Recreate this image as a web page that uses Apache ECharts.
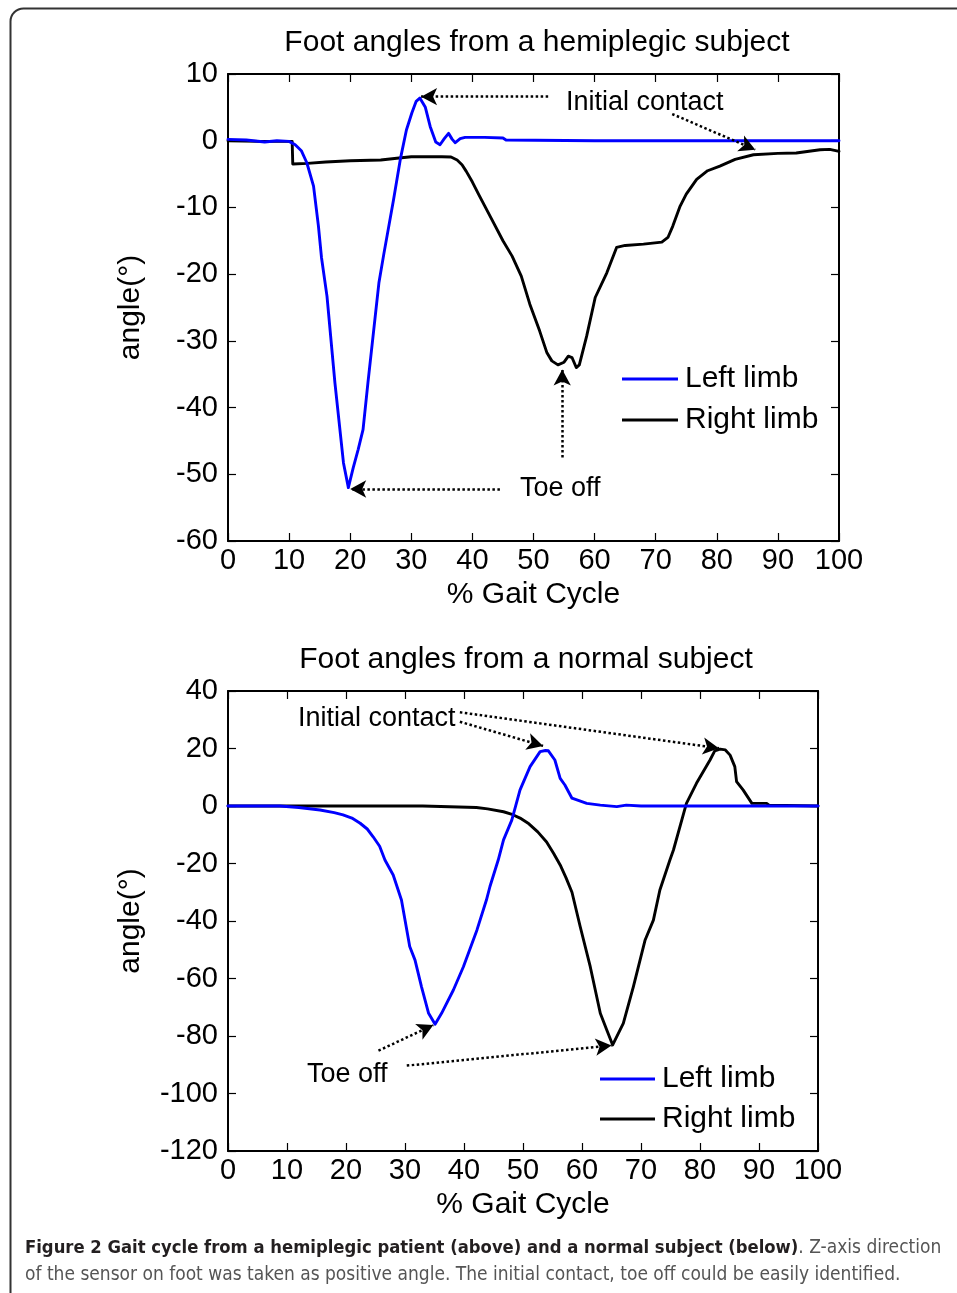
<!DOCTYPE html>
<html>
<head>
<meta charset="utf-8">
<script src="https://cdn.jsdelivr.net/npm/echarts@6/dist/echarts.min.js"></script>
<style>
html,body{margin:0;padding:0;background:#fff;}
#c{width:957px;height:1293px;}
</style>
</head>
<body>
<div id="c"></div>
<script>
// ---- Data ----
var xTicks = [0,10,20,30,40,50,60,70,80,90,100];

// Hemiplegic subject - left limb (blue)
var hemiLeftPct = [0,3,6,8,10,11,12,12.9,14,14.8,15.3,16.2,17.5,18.9,19.7,20.5,21.3,22.1,22.9,24.1,24.7,25.5,27.1,28.2,29.2,30.1,30.8,31.4,32.3,33.1,34,34.7,35.4,36.1,36.7,37.2,38,38.8,42,45,45.5,60,80,100];
var hemiLeftAng = [0.2,0.1,-0.2,0,-0.1,-0.6,-1.5,-3.3,-6.8,-12.8,-17.5,-23.3,-36.3,-48.3,-52,-49,-46.3,-43.3,-36.3,-26.3,-21.3,-17,-8.8,-2.8,1.6,4.2,5.9,6.4,5.0,2.1,-0.2,-0.6,0.3,1.1,0.2,-0.3,0.3,0.5,0.5,0.4,0.1,0,0,0];

// Hemiplegic subject - right limb (black)
var hemiRightPct = [0,5,10.5,10.6,13,16,20,25,28,30,35,36.5,37.5,38.3,39,40,41,43,45,46.5,48,49.4,51,52.2,53,54,55,55.7,56.3,57,57.5,58.7,60.1,62,63.6,65,68,71,72,72.8,74,75,76.7,78.5,80.5,83,86,90,93,96.9,98.5,100];
var hemiRightAng = [0,-0.1,-0.1,-3.5,-3.4,-3.2,-3.0,-2.9,-2.6,-2.4,-2.4,-2.45,-2.9,-3.6,-4.6,-6.2,-8,-11.5,-15,-17.3,-20.3,-24.5,-28.5,-31.8,-33,-33.6,-33.2,-32.3,-32.5,-34,-33.6,-29.3,-23.5,-19.8,-16,-15.7,-15.5,-15.2,-14.5,-12.8,-9.8,-8,-5.8,-4.5,-3.8,-2.8,-2.1,-1.9,-1.85,-1.35,-1.3,-1.6];

// Normal subject - left limb (blue)
var normLeftPct = [0,5,8.8,12,15.6,18,19.5,21,22.4,23.6,24.6,25.7,26.6,28,29.4,30.8,31.7,32.8,34,35.1,36.2,38.2,39.9,42.2,43.8,44.4,45.8,46.7,48.1,49.5,51.2,52.9,53.8,54.3,55.4,56.3,57.1,58.3,60.8,63.1,65.9,67.5,70,100];
var normLeftAng = [0,0,0,-0.5,-1.4,-2.3,-3.1,-4.2,-6,-8,-10.7,-14,-18.8,-24,-32.7,-48.9,-53.6,-62.9,-72.1,-75.9,-72.1,-64,-55.9,-43.1,-32.7,-28,-18.8,-11.8,-4.9,5.6,13.7,18.9,19.3,19.2,16,9.6,7.3,2.7,0.9,0.3,-0.2,0.3,0,0];

// Normal subject - right limb (black)
var normRightPct = [0,20,33,33.2,42.1,44,46.7,48,49.5,51,52.5,54,55.2,56.3,57.3,58.3,59.7,61.4,63.1,64.2,65.2,67,68.7,70.7,72.1,73.2,74.9,75.5,77.7,79.4,81.7,82.5,83.4,84.3,85.1,85.9,86.2,87.3,88.8,91.3,91.7,100];
var normRightAng = [0,0,0,-0.4,-0.5,-1,-2,-2.8,-4.2,-6.2,-9,-12.5,-16.5,-20.5,-25,-30,-42,-55.9,-72.1,-77.9,-83.1,-75.6,-62.9,-46.6,-39.7,-29.2,-18.8,-15.3,0.9,7.9,16,19.2,19.8,19.5,17.7,13.7,8.5,5.6,0.9,0.9,0.3,0];

// Annotation arrows [fromPct, fromAng, toPct, toAng]
var hemiArrows = [[52.4,6.6,31.6,6.6],[72.7,4.0,86.3,-1.35],[44.5,-52.2,20.0,-52.2],[54.7,-47.5,54.7,-34.3]];
var normArrows = [[39.3,32.6,83.2,20.1],[39.3,29.3,53.4,20.9],[25.5,-85.1,34.8,-76.2],[30.3,-90.3,65.0,-83.3]];

function zip(a,b){ return a.map(function(v,i){ return [v,b[i]]; }); }
function arrowData(arr){
  return arr.map(function(a){
    return [{coord:[a[0],a[1]], symbol:'none'},{coord:[a[2],a[3]], symbol:'arrow'}];
  });
}

var FONT = 'Liberation Sans, Arial, Helvetica, sans-serif';
var CAPFONT = 'DejaVu Sans Condensed, Open Sans, sans-serif';
var tickLbl = {color:'#000', fontSize:29, fontFamily:FONT};

function xAxes(grid, main){
  return {
    type:'value', gridIndex:grid, min:0, max:100, interval:10,
    position: main ? 'bottom' : 'top',
    name: main ? '% Gait Cycle' : '', nameLocation:'middle', nameGap:39,
    nameTextStyle:{color:'#000', fontSize:30, fontFamily:FONT},
    axisLine:{show:true, onZero:false, lineStyle:{color:'#000', width:2}},
    axisTick:{show:true, inside:true, length:8, lineStyle:{color:'#000', width:1.2}},
    axisLabel:{show:main, margin:5, ...tickLbl},
    splitLine:{show:false}
  };
}
function yAxes(grid, main, min, max, interval){
  return {
    type:'value', gridIndex:grid, min:min, max:max, interval:interval,
    position: main ? 'left' : 'right',
    name: main ? 'angle(°)' : '', nameLocation:'middle', nameGap:82, nameRotate:90,
    nameTextStyle:{color:'#000', fontSize:30, fontFamily:FONT},
    axisLine:{show:true, onZero:false, lineStyle:{color:'#000', width:2}},
    axisTick:{show:true, inside:true, length:8, lineStyle:{color:'#000', width:1.2}},
    axisLabel:{show:main, margin:10, ...tickLbl},
    splitLine:{show:false}
  };
}

var markLineBase = {
  silent:true, animation:false, symbol:['none','arrow'], symbolSize:[13,16],
  label:{show:false},
  lineStyle:{color:'#000', type:'dotted', width:2.5},
  emphasis:{disabled:true}
};

function lineSeries(name, color, xi, yi, data, arrows){
  var s = {
    name:name, type:'line', xAxisIndex:xi, yAxisIndex:yi, data:data,
    symbol:'none', smooth:false,
    lineStyle:{color:color, width:2.9, join:'round', cap:'round'}, itemStyle:{color:color},
    animation:false, z:3
  };
  if (arrows) { s.markLine = Object.assign({}, markLineBase, {data: arrowData(arrows)}); }
  return s;
}

var chart = echarts.init(document.getElementById('c'), null, {renderer:'canvas'});
chart.setOption({
  backgroundColor:'#fff',
  animation:false,
  title:[
    {text:'Foot angles from a hemiplegic subject', left:537, top:28, textAlign:'center', padding:0,
     textStyle:{color:'#000', fontSize:30, fontWeight:'normal', fontFamily:FONT}},
    {text:'Foot angles from a normal subject', left:526, top:645, textAlign:'center', padding:0,
     textStyle:{color:'#000', fontSize:30, fontWeight:'normal', fontFamily:FONT}}
  ],
  grid:[
    {left:228, top:74, width:611, height:467, containLabel:false},
    {left:228, top:691, width:590, height:460, containLabel:false}
  ],
  xAxis:[ xAxes(0,true), xAxes(0,false), xAxes(1,true), xAxes(1,false) ],
  yAxis:[ yAxes(0,true,-60,10,10), yAxes(0,false,-60,10,10), yAxes(1,true,-120,40,20), yAxes(1,false,-120,40,20) ],
  legend:[
    {data:['Left limb','Right limb'], orient:'vertical', left:622, top:364, itemWidth:56, itemHeight:3, itemGap:11,
     icon:'rect', padding:0, selectedMode:false, textStyle:{color:'#000', fontSize:30, fontFamily:FONT, padding:[0,0,0,2]}},
    {data:['Left limb','Right limb'], orient:'vertical', left:600, top:1064, itemWidth:55, itemHeight:3, itemGap:10,
     icon:'rect', padding:0, selectedMode:false, textStyle:{color:'#000', fontSize:30, fontFamily:FONT, padding:[0,0,0,2]}}
  ],
  series:[
    lineSeries('Right limb', '#000000', 0, 0, zip(hemiRightPct, hemiRightAng), null),
    lineSeries('Left limb', '#0000ff', 0, 0, zip(hemiLeftPct, hemiLeftAng), hemiArrows),
    lineSeries('Right limb', '#000000', 2, 2, zip(normRightPct, normRightAng), null),
    lineSeries('Left limb', '#0000ff', 2, 2, zip(normLeftPct, normLeftAng), normArrows)
  ],
  graphic:[
    {type:'rect', z:-1, silent:true, shape:{x:10.5, y:8.5, width:990, height:1330, r:13},
     style:{fill:'none', stroke:'#333', lineWidth:2}},
    {type:'text', silent:true, x:566, y:103, style:{text:'Initial contact', fontSize:27, fontFamily:FONT, fill:'#000', verticalAlign:'middle'}},
    {type:'text', silent:true, x:520, y:489, style:{text:'Toe off', fontSize:27, fontFamily:FONT, fill:'#000', verticalAlign:'middle'}},
    {type:'text', silent:true, x:298, y:719, style:{text:'Initial contact', fontSize:27, fontFamily:FONT, fill:'#000', verticalAlign:'middle'}},
    {type:'text', silent:true, x:307, y:1075, style:{text:'Toe off', fontSize:27, fontFamily:FONT, fill:'#000', verticalAlign:'middle'}},
    {type:'text', silent:true, x:25, y:1248, style:{
      text:'{b|Figure 2 Gait cycle from a hemiplegic patient (above) and a normal subject (below)}{r|. Z-axis direction}',
      verticalAlign:'middle',
      rich:{
        b:{fontSize:18.3, fontWeight:'bold', fill:'#231f20', fontFamily:CAPFONT},
        r:{fontSize:19, fill:'#555', fontFamily:CAPFONT}
      }}},
    {type:'text', silent:true, x:25, y:1275, style:{
      text:'of the sensor on foot was taken as positive angle. The initial contact, toe off could be easily identified.',
      verticalAlign:'middle', fontSize:19, fill:'#555', fontFamily:CAPFONT}}
  ]
});
</script>
</body>
</html>
